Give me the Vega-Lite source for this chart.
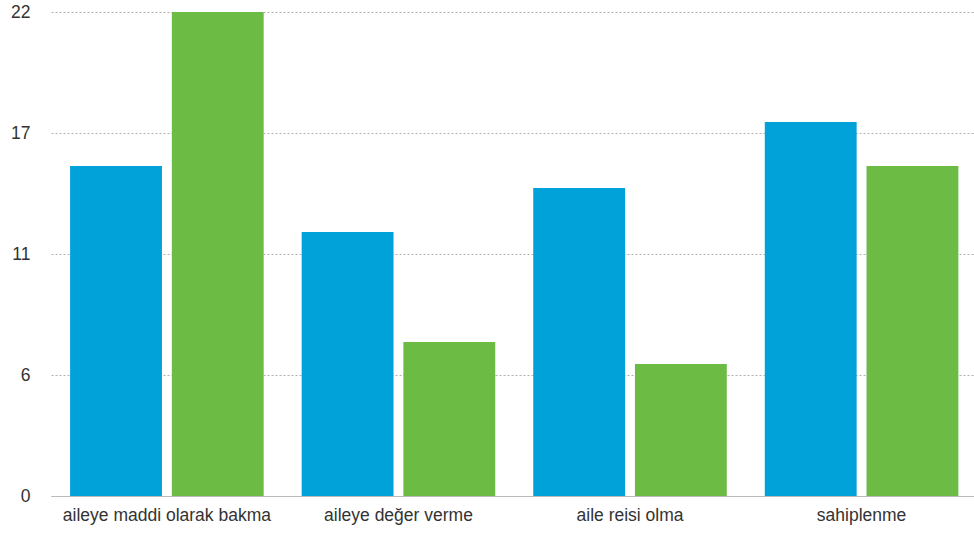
{
  "$schema": "https://vega.github.io/schema/vega-lite/v6.json",
  "width": 923,
  "height": 484,
  "autosize": {"type": "none"},
  "padding": {"left": 51, "top": 12, "right": 0, "bottom": 38},
  "background": "white",
  "data": {
    "values": [
      {"category": "aileye maddi olarak bakma", "series": "A", "value": 15},
      {"category": "aileye maddi olarak bakma", "series": "B", "value": 22},
      {"category": "aileye değer verme", "series": "A", "value": 12},
      {"category": "aileye değer verme", "series": "B", "value": 7},
      {"category": "aile reisi olma", "series": "A", "value": 14},
      {"category": "aile reisi olma", "series": "B", "value": 6},
      {"category": "sahiplenme", "series": "A", "value": 17},
      {"category": "sahiplenme", "series": "B", "value": 15}
    ]
  },
  "config": {
    "view": {"stroke": null},
    "font": "Liberation Sans"
  },
  "mark": {"type": "bar"},
  "encoding": {
    "x": {
      "field": "category",
      "type": "nominal",
      "sort": null,
      "scale": {"paddingInner": 0.164, "paddingOuter": 0.075, "align": 0.55},
      "axis": {
        "title": null,
        "labelAngle": 0,
        "labelFontSize": 17.5,
        "labelLimit": 0,
        "labelColor": "#333333",
        "labelPadding": 10,
        "ticks": false,
        "domainColor": "#bbbbbb",
        "domainWidth": 1.2,
        "grid": false
      }
    },
    "xOffset": {
      "field": "series",
      "type": "nominal",
      "scale": {"paddingInner": 0.097, "paddingOuter": 0}
    },
    "y": {
      "field": "value",
      "type": "quantitative",
      "scale": {"domain": [0, 22], "nice": false},
      "axis": {
        "title": null,
        "values": [0, 5.5, 11, 16.5, 22],
        "format": ".0f",
        "labelFontSize": 17.5,
        "labelColor": "#333333",
        "labelPadding": 21,
        "ticks": false,
        "domain": false,
        "gridColor": "#b0b0b0",
        "gridDash": [2, 2],
        "gridWidth": 1
      }
    },
    "color": {
      "field": "series",
      "type": "nominal",
      "scale": {"domain": ["A", "B"], "range": ["#00a2d9", "#6cbb45"]},
      "legend": null
    }
  }
}
